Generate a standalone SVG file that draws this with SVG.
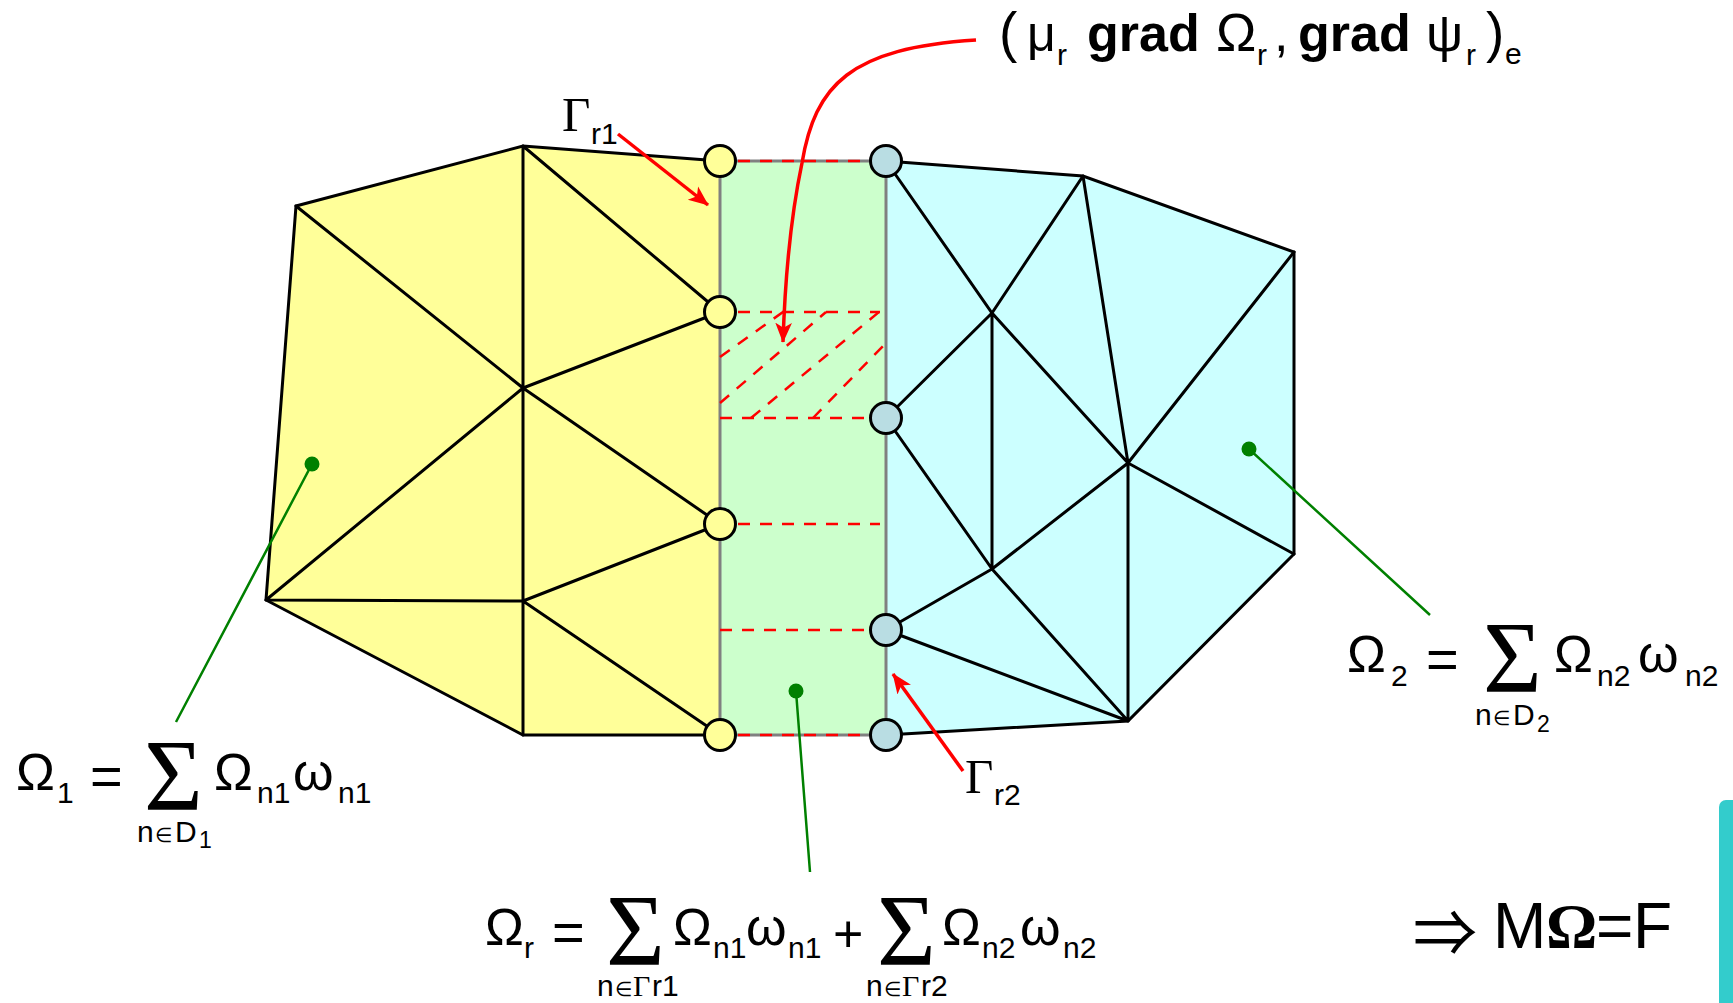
<svg xmlns="http://www.w3.org/2000/svg" width="1733" height="1003" viewBox="0 0 1733 1003">
<defs>
<marker id="arr" viewBox="0 0 12 12" refX="11.5" refY="6" markerWidth="20" markerHeight="20" markerUnits="userSpaceOnUse" orient="auto"><path d="M0,1 L12,6 L0,11 L3,6 Z" fill="#ff0000"/></marker>
</defs>
<style>
text{font-family:"Liberation Sans",Arial,sans-serif;fill:#000}
.b{font-size:52px}.s{font-size:30px}.t{font-size:23px}.e{font-size:56px}
.sy{font-family:"Liberation Serif","Times New Roman",serif}
.sg{font-family:"Liberation Serif","Times New Roman",serif;font-size:101px}
.m{fill:none;stroke:#000;stroke-width:3;stroke-linecap:round}
.d{fill:none;stroke:#ff0000;stroke-width:2.5;stroke-dasharray:12 10}
.g{fill:none;stroke:#008000;stroke-width:2.5}
.gd{fill:#008000}
.r{fill:none;stroke:#ff0000;stroke-width:3.5}
.cy{fill:#ffff99;stroke:#000;stroke-width:3}
.cb{fill:#b9dde3;stroke:#000;stroke-width:3}
</style>
<g id="domain1"><polygon points="296,206 523,146 720,161 720,735 523,735 266,600" fill="#ffff99"/></g>
<g id="domain2"><polygon points="886,161 1083,176 1294,252 1294,554 1128,721 886,735" fill="#ccffff"/></g>
<g id="domainr"><rect x="720" y="161" width="166" height="574" fill="#ccffcc" stroke="#808080" stroke-width="3"/></g>
<g id="connectors">
<g id="mesh">
<path class="m" d="M720,161 L523,146 L296,206 L266,600 L523,735 L720,735"/>
<path class="m" d="M523,146 V735 M523,146 L720,312 M296,206 L523,388 M523,388 L720,312 M523,388 L720,524 M523,388 L266,600 M266,600 L523,601 M523,601 L720,524 M523,601 L720,735"/>
<path class="m" d="M886,161 L1083,176 L1294,252 V554 L1128,721 L886,735"/>
<path class="m" d="M886,161 L992,313 L1128,463 M1083,176 L992,313 M992,313 L886,418 M992,313 V569 M886,418 L992,569 M1083,176 L1128,463 M1128,463 L1294,252 M1128,463 L1294,554 M1128,463 L992,569 M992,569 L886,630 M886,630 L1128,721 M992,569 L1128,721 M1128,463 V721"/>
</g>
<g id="dashes">
<path class="d" d="M738,161 H870 M738,312 H880 M720,418 H870 M738,524 H880 M720,630 H870 M738,735 H870"/>
<path class="d" d="M720,357 L783,312 M720,403 L826,312 M751,418 L879,312 M813,418 L886,343"/>
</g>
<path class="r" d="M618,134 L708,205" marker-end="url(#arr)"/>
<path class="r" d="M963,771 L893,674" marker-end="url(#arr)"/>
<path class="r" d="M976,40 C850,48 815,85 802,163 C790,220 785,280 783,342" marker-end="url(#arr)"/>
<path class="g" d="M312,464 L176,722 M796,691 L810,872 M1249,449 L1430,615"/>
</g>
<g id="nodes-left">
<circle class="cy" cx="720" cy="161" r="15.5"/><circle class="cy" cx="720" cy="312" r="15.5"/><circle class="cy" cx="720" cy="524" r="15.5"/><circle class="cy" cx="720" cy="735" r="15.5"/>
</g>
<g id="nodes-right">
<circle class="cb" cx="886" cy="161" r="15.5"/><circle class="cb" cx="886" cy="418" r="15.5"/><circle class="cb" cx="886" cy="630" r="15.5"/><circle class="cb" cx="886" cy="735" r="15.5"/>
</g>
<g id="dots">
<circle class="gd" cx="312" cy="464" r="7.5"/><circle class="gd" cx="796" cy="691" r="7.5"/><circle class="gd" cx="1249" cy="449" r="7.5"/>
</g>
<rect id="bar" x="1719" y="800" width="24" height="220" rx="7" fill="#33cccc"/>
<g id="label-gr1"><text class="sy" x="562" y="131" font-size="49">Γ</text><text class="s" x="591" y="144">r1</text></g>
<g id="label-gr2"><text class="sy" x="965" y="793" font-size="49">Γ</text><text class="s" x="994" y="805">r2</text></g>
<g id="top-formula">
<text x="999" y="51" font-size="55">(</text><text x="1027" y="51" font-size="50">μ</text><text class="s" x="1057" y="65">r</text>
<text x="1087" y="51" font-size="52" font-weight="bold">grad</text><text x="1216" y="51" font-size="54">Ω</text><text class="s" x="1257" y="65">r</text><text x="1274" y="51" font-size="52">,</text>
<text x="1298" y="51" font-size="52" font-weight="bold">grad</text><text x="1426" y="51" font-size="52">ψ</text><text class="s" x="1466" y="65">r</text><text x="1486" y="51" font-size="55">)</text><text class="s" x="1505" y="64">e</text>
</g>
<g id="formula1">
<text class="b" x="16" y="790">Ω</text><text class="s" x="57" y="803">1</text><text class="e" x="90" y="795">=</text>
<text class="sg" x="144" y="810">Σ</text><text class="b" x="214" y="790">Ω</text><text class="s" x="257" y="803">n1</text><text class="b" x="293" y="790">ω</text><text class="s" x="338" y="803">n1</text>
<text class="s" x="137" y="842">n</text><text class="sy" x="155" y="842" font-size="20">∈</text><text class="s" x="175" y="842">D</text><text class="t" x="199" y="848">1</text>
</g>
<g id="formula2">
<text class="b" x="1347" y="672">Ω</text><text class="s" x="1391" y="686">2</text><text class="e" x="1426" y="678">=</text>
<text class="sg" x="1483" y="692">Σ</text><text class="b" x="1554" y="672">Ω</text><text class="s" x="1597" y="686">n2</text><text class="b" x="1638" y="672">ω</text><text class="s" x="1685" y="686">n2</text>
<text class="s" x="1475" y="725">n</text><text class="sy" x="1493" y="725" font-size="20">∈</text><text class="s" x="1513" y="725">D</text><text class="t" x="1537" y="732">2</text>
</g>
<g id="formular">
<text class="b" x="485" y="945">Ω</text><text class="s" x="524" y="958">r</text><text class="e" x="552" y="951">=</text>
<text class="sg" x="606" y="965">Σ</text><text class="b" x="673" y="945">Ω</text><text class="s" x="713" y="958">n1</text><text class="b" x="746" y="945">ω</text><text class="s" x="788" y="958">n1</text>
<text class="b" x="833" y="952">+</text>
<text class="sg" x="877" y="965">Σ</text><text class="b" x="942" y="945">Ω</text><text class="s" x="982" y="958">n2</text><text class="b" x="1020" y="945">ω</text><text class="s" x="1063" y="958">n2</text>
<text class="s" x="597" y="996">n</text><text class="sy" x="615" y="996" font-size="20">∈</text><text class="sy" x="633" y="996" font-size="30">Γ</text><text class="s" x="652" y="996">r1</text>
<text class="s" x="866" y="996">n</text><text class="sy" x="884" y="996" font-size="20">∈</text><text class="sy" x="902" y="996" font-size="30">Γ</text><text class="s" x="921" y="996">r2</text>
</g>
<g id="result">
<text x="1413" y="956" font-size="64" style="font-family:'Noto Sans CJK JP',sans-serif">⇒</text><text x="1493" y="948" font-size="64">M</text><text class="sy" x="1546" y="948" font-size="64" font-weight="bold">Ω</text><text x="1596" y="948" font-size="64">=</text><text x="1633" y="948" font-size="64">F</text>
</g>
</svg>
